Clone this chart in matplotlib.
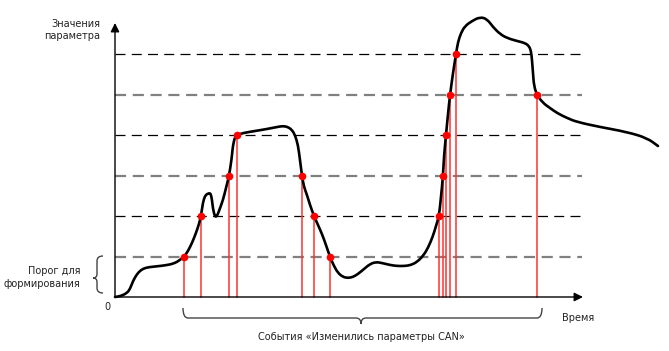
import matplotlib
matplotlib.use("Agg")
import matplotlib.pyplot as plt
from matplotlib.path import Path
from matplotlib.patches import PathPatch

plt.rcParams['font.family'] = ['DejaVu Sans']

# ---- data (time / value units, origin at axes crossing) ----
threshold_levels = [40, 81, 121, 162, 202, 243]
level_styles = ['gray', 'black', 'gray', 'black', 'gray', 'black']

event_times = [69, 86, 114, 122, 187, 199, 215, 324, 328, 331, 335, 341, 422]
event_values = [40, 81, 121, 162, 121, 81, 40, 81, 121, 162, 202, 243, 202]

curve_px = [(115,297),(121,296),(127,293),(130,289),(133,281),(137,274),(141,270),(145,268),
            (150,267),(160,266),(167,265),(172,264),(177,262),(181,259),(184,257),(188,251),
            (192,243),(196,233),(199,224),(201,216),(203,202),(205,196),(207,194),(210,193),
            (211,195),(212,200),(213,209),(215,217),(217,216),(219,211),(223,200),(226,188),
            (229,176),(231,163),(232,155),(233,145),(235,137),(237,135),(243,133),(255,131),
            (267,129),(277,127),(283,126),(288,127),(292,130),(295,135),(298,145),(300,160),
            (302,176),(304,187),(307,195),(310,205),(314,216),(318,225),(322,234),(326,245),
            (330,257),(334,266),(338,273),(343,277),(348,278),(353,277),(358,274),(364,269),
            (370,264),(376,262),(382,263),(390,265),(397,266),(405,266),(411,265),(417,262),
            (423,256),(428,248),(433,236),(436,226),(439,216),(441,197),(443,176),(444,156),
            (446,135),(448,114),(450,95),(453,73),(456,54),(458,42),(461,33),(465,26),
            (472,21),(480,17),(487,19),(493,27),(500,34),(507,38),(517,41),(525,43),
            (529,46),(531,51),(532,60),(533,73),(534,86),(537,95),(543,103),(550,108),
            (557,113),(567,118),(577,122),(600,127),(627,132),(647,138),(658,146)]
curve_t = [p[0] - 115 for p in curve_px]
curve_v = [297 - p[1] for p in curve_px]

x_end = 467   # end of time axis
y_end = 274   # end of value axis

fig = plt.figure(figsize=(6.69, 3.51), dpi=100)
ax = fig.add_axes([0, 0, 1, 1])
ax.set_xlim(-115, 554)
ax.set_ylim(-54, 297)
ax.axis('off')

# dashed threshold lines
for lv, st in zip(threshold_levels, level_styles):
    if st == 'gray':
        ax.plot([0, x_end], [lv, lv], color='#808080', lw=1.6, dashes=(5, 3), zorder=1)
    else:
        ax.plot([0, x_end], [lv, lv], color='black', lw=0.9, dashes=(8, 5), zorder=1)

# red event lines and dots
for t, v in zip(event_times, event_values):
    ax.plot([t, t], [0, v], color='#ff3030', lw=1.1, zorder=2)

# smooth curve: quadratic Bezier segments through midpoints of the read points
pts = list(zip(curve_t, curve_v))
verts = [pts[0], ((pts[0][0] + pts[1][0]) / 2, (pts[0][1] + pts[1][1]) / 2)]
codes = [Path.MOVETO, Path.LINETO]
for i in range(1, len(pts) - 1):
    mid = ((pts[i][0] + pts[i + 1][0]) / 2, (pts[i][1] + pts[i + 1][1]) / 2)
    verts += [pts[i], mid]
    codes += [Path.CURVE3, Path.CURVE3]
verts.append(pts[-1])
codes.append(Path.LINETO)
ax.add_patch(PathPatch(Path(verts, codes), fill=False, ec='black', lw=1.9,
                       joinstyle='round', capstyle='round', zorder=3))

ax.plot(event_times, event_values, 'o', color='#ff0000', ms=5.5, mec='none', zorder=4)

# axes with arrows
ax.annotate('', xy=(x_end + 1, 0), xytext=(0, 0),
            arrowprops=dict(arrowstyle='-|>', color='black', lw=1.0, mutation_scale=13,
                            shrinkA=0, shrinkB=0), zorder=5)
ax.annotate('', xy=(0, y_end), xytext=(0, 0),
            arrowprops=dict(arrowstyle='-|>', color='black', lw=1.0, mutation_scale=13,
                            shrinkA=0, shrinkB=0), zorder=5)

# bottom brace
bx0, bx1, bmid = 68, 427, 246
by0, by1, btip = -11, -21, -27
bverts = [(bx0, by0), (bx0, by1), (bx0 + 5, by1), (bmid - 5, by1), (bmid, by1), (bmid, btip),
          (bmid, by1), (bmid + 5, by1), (bx1 - 5, by1), (bx1, by1), (bx1, by0)]
bcodes = [Path.MOVETO, Path.CURVE3, Path.CURVE3, Path.LINETO, Path.CURVE3, Path.CURVE3,
          Path.CURVE3, Path.CURVE3, Path.LINETO, Path.CURVE3, Path.CURVE3]
ax.add_patch(PathPatch(Path(bverts, bcodes), fill=False, ec='#444444', lw=1.0))

# left brace
lx0, lx1, ltip = -12, -18, -22
ly0, ly1, lmid = 41, 4, 19
lverts = [(lx0, ly0), (lx1, ly0), (lx1, ly0 - 5), (lx1, lmid + 4), (lx1, lmid), (ltip, lmid),
          (lx1, lmid), (lx1, lmid - 4), (lx1, ly1 + 5), (lx1, ly1), (lx0, ly1)]
ax.add_patch(PathPatch(Path(lverts, bcodes), fill=False, ec='#444444', lw=1.0))

# texts
tc = '#222222'
fs = 7
ax.text(-15, 273, 'Значения', ha='right', va='center', fontsize=fs, color=tc)
ax.text(-15, 261, 'параметра', ha='right', va='center', fontsize=fs, color=tc)
ax.text(-35, 26, 'Порог для', ha='right', va='center', fontsize=fs, color=tc)
ax.text(-35, 13, 'формирования', ha='right', va='center', fontsize=fs, color=tc)
ax.text(-8, -10, '0', ha='center', va='center', fontsize=fs, color=tc)
ax.text(447, -21, 'Время', ha='left', va='center', fontsize=fs, color=tc)
ax.text(246, -40, 'События «Изменились параметры CAN»', ha='center', va='center',
        fontsize=fs, color=tc)

fig.savefig('out.png', dpi=100)
